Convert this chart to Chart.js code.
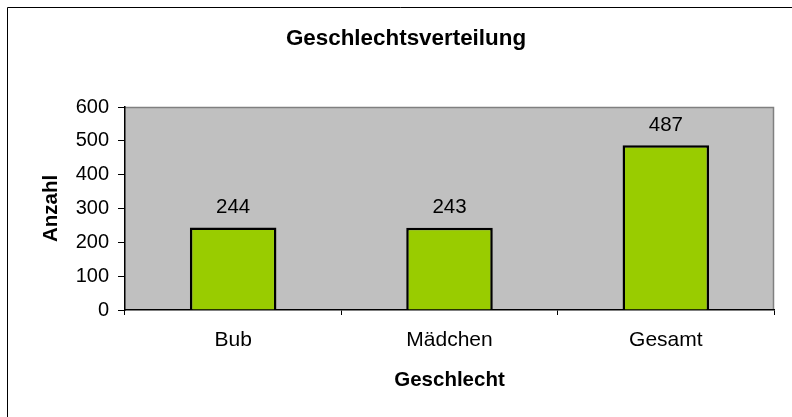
<!DOCTYPE html>
<html>
<head>
<meta charset="utf-8">
<script src="https://cdn.jsdelivr.net/npm/chart.js@4/dist/chart.umd.min.js"></script>
<style>
  html, body { margin: 0; padding: 0; background: #ffffff; }
  #wrap { width: 792px; height: 417px; }
</style>
</head>
<body>
<div id="wrap"><canvas id="c" width="792" height="417"></canvas></div>
<script>
const categories = ["Bub", "Mädchen", "Gesamt"];
const counts = [244, 243, 487];
const yTicks = [0, 100, 200, 300, 400, 500, 600];
const chartTitle = "Geschlechtsverteilung";
const xTitle = "Geschlecht";
const yTitle = "Anzahl";

const FONT = "'Liberation Sans', Arial, sans-serif";

const decor = {
  id: 'decor',
  beforeDraw(chart) {
    const ctx = chart.ctx;
    const a = chart.chartArea;
    ctx.save();
    ctx.fillStyle = '#ffffff';
    ctx.fillRect(0, 0, chart.width, chart.height);
    // outer frame (left and top visible)
    ctx.strokeStyle = '#000000';
    ctx.lineWidth = 1;
    ctx.beginPath();
    ctx.moveTo(7.5, chart.height + 5);
    ctx.lineTo(7.5, 7.5);
    ctx.lineTo(chart.width + 5, 7.5);
    ctx.stroke();
    // plot background
    ctx.fillStyle = '#C0C0C0';
    ctx.fillRect(a.left, a.top, a.right - a.left, a.bottom - a.top);
    // top/right plot border
    ctx.strokeStyle = '#808080';
    ctx.lineWidth = 1.5;
    ctx.beginPath();
    ctx.moveTo(a.left, a.top + 0.5);
    ctx.lineTo(a.right - 0.5, a.top + 0.5);
    ctx.lineTo(a.right - 0.5, a.bottom);
    ctx.stroke();
    // title
    ctx.fillStyle = '#000000';
    ctx.font = "bold 22.4px " + FONT;
    ctx.textAlign = 'center';
    ctx.textBaseline = 'middle';
    ctx.fillText(chartTitle, 406, 39);
    ctx.restore();
  },
  afterDatasetsDraw(chart) {
    const ctx = chart.ctx;
    const meta = chart.getDatasetMeta(0);
    ctx.save();
    ctx.fillStyle = '#000000';
    ctx.font = "20.5px " + FONT;
    ctx.textAlign = 'center';
    ctx.textBaseline = 'alphabetic';
    meta.data.forEach((bar, i) => {
      ctx.fillText(String(chart.data.datasets[0].data[i]), bar.x, bar.y - 14.5);
    });
    ctx.restore();
  }
};

new Chart(document.getElementById('c'), {
  type: 'bar',
  data: {
    labels: categories,
    datasets: [{
      data: counts,
      backgroundColor: '#99CC00',
      borderColor: '#000000',
      borderWidth: 2.5,
      barPercentage: 0.4,
      categoryPercentage: 1.0
    }]
  },
  options: {
    responsive: false,
    animation: false,
    devicePixelRatio: 1,
    layout: { padding: { top: 107, right: 18, bottom: 0, left: 0 } },
    plugins: {
      legend: { display: false },
      title: { display: false },
      tooltip: { enabled: false }
    },
    scales: {
      x: {
        afterFit(scale) { scale.height = 107; },
        grid: { display: true, drawOnChartArea: false, drawTicks: true, tickLength: 5, color: '#000000', offset: true },
        border: { display: true, color: '#000000', width: 1.5 },
        ticks: { color: '#000000', padding: 13, font: { family: FONT, size: 21 } },
        title: { display: true, text: xTitle, color: '#000000', font: { family: FONT, size: 20.5, weight: 'bold' }, padding: { top: 0, bottom: 24.2 } }
      },
      y: {
        min: 0,
        max: 600,
        afterFit(scale) { scale.width = 125; },
        afterBuildTicks(scale) { scale.ticks = yTicks.map(v => ({ value: v })); },
        grid: { display: true, drawOnChartArea: false, drawTicks: true, tickLength: 7, color: '#000000' },
        border: { display: true, color: '#000000', width: 1.5 },
        ticks: { color: '#000000', padding: 9, font: { family: FONT, size: 20 } },
        title: { display: true, text: yTitle, color: '#000000', font: { family: FONT, size: 20.5, weight: 'bold' }, padding: { top: 38.7, bottom: 0 } }
      }
    }
  },
  plugins: [decor]
});
</script>
</body>
</html>
